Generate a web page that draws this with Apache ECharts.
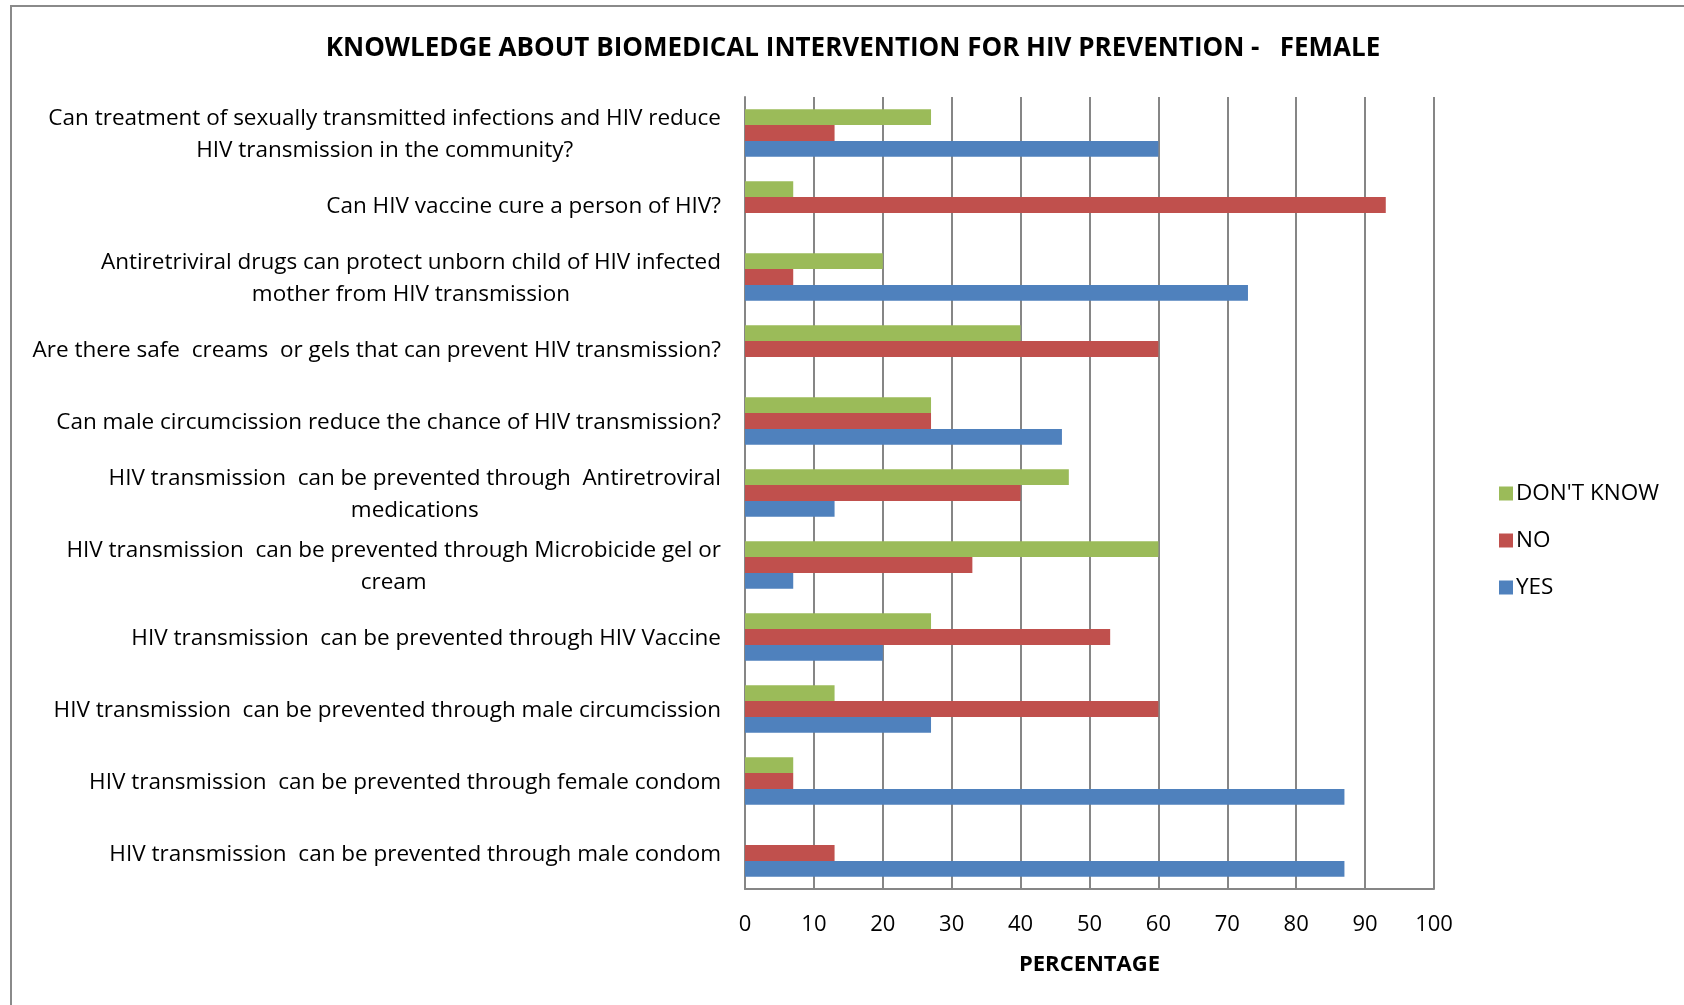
<!DOCTYPE html>
<html>
<head>
<meta charset="utf-8">
<script src="https://cdn.jsdelivr.net/npm/echarts@6/dist/echarts.min.js"></script>
<style>
html,body{margin:0;padding:0;background:#fff;}
#chart{width:1684px;height:1005px;}
</style>
</head>
<body>
<div id="chart"></div>
<script>
const categories = [
  "Can treatment of sexually transmitted infections and HIV reduce\nHIV transmission in the community?",
  "Can HIV vaccine cure a person of HIV?",
  "Antiretriviral drugs can protect unborn child of HIV infected\nmother from HIV transmission",
  "Are there safe  creams  or gels that can prevent HIV transmission?",
  "Can male circumcission reduce the chance of HIV transmission?",
  "HIV transmission  can be prevented through  Antiretroviral\nmedications",
  "HIV transmission  can be prevented through Microbicide gel or\ncream",
  "HIV transmission  can be prevented through HIV Vaccine",
  "HIV transmission  can be prevented through male circumcission",
  "HIV transmission  can be prevented through female condom",
  "HIV transmission  can be prevented through male condom"
];
const dontKnow = [27, 7, 20, 40, 27, 47, 60, 27, 13, 7, null];
const no       = [13, 93, 7, 60, 27, 40, 33, 53, 60, 7, 13];
const yes      = [60, null, 73, null, 46, 13, 7, 20, 27, 87, 87];
const xTicks = [0, 10, 20, 30, 40, 50, 60, 70, 80, 90, 100];

const FONT = "'Open Sans', 'Noto Sans', sans-serif";
const GRID = '#868686';

const chart = echarts.init(document.getElementById('chart'), null, {renderer: 'canvas'});
chart.setOption({
  backgroundColor: '#fff',
  animation: false,
  textStyle: {fontFamily: FONT},
  title: {
    text: 'KNOWLEDGE ABOUT BIOMEDICAL INTERVENTION FOR HIV PREVENTION -   FEMALE',
    left: 848, top: 31, textAlign: 'center',
    textStyle: {fontFamily: FONT, fontSize: 26, fontWeight: 'bold', color: '#000'}
  },
  graphic: [{
    type: 'rect', shape: {x: 11, y: 6, width: 1700, height: 1020},
    style: {fill: null, stroke: '#8a8a8a', lineWidth: 2}, silent: true
  }],
  legend: {
    orient: 'vertical', left: 1494, top: 476,
    itemWidth: 14, itemHeight: 14, itemGap: 22,
    icon: 'rect',
    data: ["DON'T KNOW", 'NO', 'YES'],
    textStyle: {fontFamily: FONT, fontSize: 22.5, lineHeight: 25, color: '#000', padding: [0,0,0,-2]}
  },
  grid: {left: 745, right: 250, top: 97, bottom: 116, containLabel: false},
  xAxis: {
    type: 'value', min: xTicks[0], max: xTicks[xTicks.length-1], interval: 10,
    name: 'PERCENTAGE', nameLocation: 'middle', nameGap: 65,
    nameTextStyle: {fontFamily: FONT, fontSize: 22, fontWeight: 'bold', color: '#000'},
    axisLine: {show: true, lineStyle: {color: GRID, width: 2}},
    axisTick: {show: false},
    splitLine: {show: true, lineStyle: {color: GRID, width: 2}},
    axisLabel: {fontFamily: FONT, fontSize: 22, color: '#000', margin: 25}
  },
  yAxis: {
    type: 'category', inverse: true, data: categories,
    axisLine: {show: true, lineStyle: {color: GRID, width: 2}},
    axisTick: {show: false},
    axisLabel: {
      margin: 24, fontFamily: FONT, fontSize: 22.5, color: '#000', lineHeight: 32,
      padding: [3, 0, 0, 0],
      formatter: function (v) {
        return v.split('\n').map(function (s) { return '{c|' + s + '}'; }).join('\n');
      },
      rich: {c: {align: 'center', fontFamily: FONT, fontSize: 22.5, color: '#000', lineHeight: 32}}
    }
  },
  series: [
    {name: "DON'T KNOW", type: 'bar', data: dontKnow, itemStyle: {color: '#9BBB59'}, barGap: '0%', barCategoryGap: '34%'},
    {name: 'NO', type: 'bar', data: no, itemStyle: {color: '#C0504D'}, barGap: '0%', barCategoryGap: '34%'},
    {name: 'YES', type: 'bar', data: yes, itemStyle: {color: '#4F81BD'}, barGap: '0%', barCategoryGap: '34%'}
  ]
});
</script>
</body>
</html>
